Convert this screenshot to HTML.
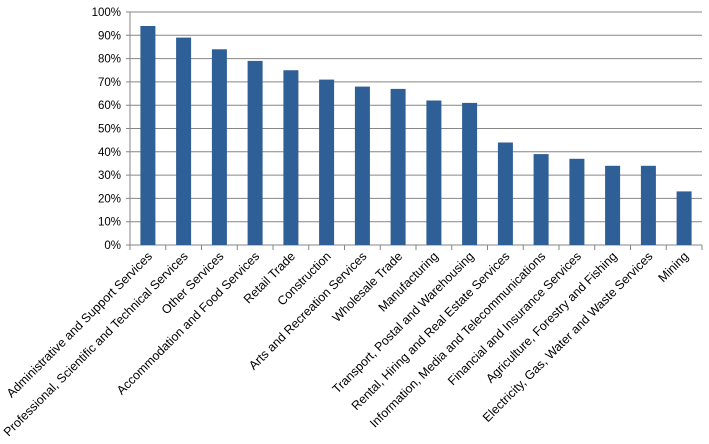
<!DOCTYPE html><html><head><style>body{margin:0;background:#fff}</style></head><body>
<svg width="709" height="439" xmlns="http://www.w3.org/2000/svg" font-family="Liberation Sans, sans-serif" font-size="11.5" fill="#000">
<g stroke="#868686" stroke-width="1">
<line x1="126" x2="702" y1="245" y2="245"/>
<line x1="126" x2="702" y1="221.7" y2="221.7"/>
<line x1="126" x2="702" y1="198.4" y2="198.4"/>
<line x1="126" x2="702" y1="175.1" y2="175.1"/>
<line x1="126" x2="702" y1="151.8" y2="151.8"/>
<line x1="126" x2="702" y1="128.5" y2="128.5"/>
<line x1="126" x2="702" y1="105.2" y2="105.2"/>
<line x1="126" x2="702" y1="81.9" y2="81.9"/>
<line x1="126" x2="702" y1="58.6" y2="58.6"/>
<line x1="126" x2="702" y1="35.3" y2="35.3"/>
<line x1="126" x2="702" y1="12" y2="12"/>
<line x1="130" x2="130" y1="12" y2="250"/>
<line x1="165.75" x2="165.75" y1="245" y2="250"/>
<line x1="201.5" x2="201.5" y1="245" y2="250"/>
<line x1="237.25" x2="237.25" y1="245" y2="250"/>
<line x1="273" x2="273" y1="245" y2="250"/>
<line x1="308.75" x2="308.75" y1="245" y2="250"/>
<line x1="344.5" x2="344.5" y1="245" y2="250"/>
<line x1="380.25" x2="380.25" y1="245" y2="250"/>
<line x1="416" x2="416" y1="245" y2="250"/>
<line x1="451.75" x2="451.75" y1="245" y2="250"/>
<line x1="487.5" x2="487.5" y1="245" y2="250"/>
<line x1="523.25" x2="523.25" y1="245" y2="250"/>
<line x1="559" x2="559" y1="245" y2="250"/>
<line x1="594.75" x2="594.75" y1="245" y2="250"/>
<line x1="630.5" x2="630.5" y1="245" y2="250"/>
<line x1="666.25" x2="666.25" y1="245" y2="250"/>
<line x1="702" x2="702" y1="245" y2="250"/>
</g>
<g text-anchor="end">
<text x="121" y="249">0%</text>
<text x="121" y="225.7">10%</text>
<text x="121" y="202.4">20%</text>
<text x="121" y="179.1">30%</text>
<text x="121" y="155.8">40%</text>
<text x="121" y="132.5">50%</text>
<text x="121" y="109.2">60%</text>
<text x="121" y="85.9">70%</text>
<text x="121" y="62.6">80%</text>
<text x="121" y="39.3">90%</text>
<text x="121" y="16">100%</text>
</g>
<g fill="#2f5f97">
<rect x="140.4" y="26" width="15" height="219"/>
<rect x="176.1" y="37.6" width="15" height="207.4"/>
<rect x="211.9" y="49.3" width="15" height="195.7"/>
<rect x="247.6" y="60.9" width="15" height="184.1"/>
<rect x="283.4" y="70.25" width="15" height="174.75"/>
<rect x="319.1" y="79.6" width="15" height="165.4"/>
<rect x="354.9" y="86.6" width="15" height="158.4"/>
<rect x="390.6" y="88.9" width="15" height="156.1"/>
<rect x="426.4" y="100.5" width="15" height="144.5"/>
<rect x="462.1" y="102.9" width="15" height="142.1"/>
<rect x="497.9" y="142.5" width="15" height="102.5"/>
<rect x="533.6" y="154.1" width="15" height="90.9"/>
<rect x="569.4" y="158.8" width="15" height="86.2"/>
<rect x="605.1" y="165.8" width="15" height="79.2"/>
<rect x="640.9" y="165.8" width="15" height="79.2"/>
<rect x="676.6" y="191.4" width="15" height="53.6"/>
</g>
<g text-anchor="end" font-size="12.4">
<text transform="translate(152.9,257) rotate(-45)">Administrative and Support Services</text>
<text transform="translate(188.6,257) rotate(-45)">Professional, Scientific and Technical Services</text>
<text transform="translate(224.4,257) rotate(-45)">Other Services</text>
<text transform="translate(260.1,257) rotate(-45)">Accommodation and Food Services</text>
<text transform="translate(295.9,257) rotate(-45)">Retail Trade</text>
<text transform="translate(331.6,257) rotate(-45)">Construction</text>
<text transform="translate(367.4,257) rotate(-45)">Arts and Recreation Services</text>
<text transform="translate(403.1,257) rotate(-45)">Wholesale Trade</text>
<text transform="translate(438.9,257) rotate(-45)">Manufacturing</text>
<text transform="translate(474.6,257) rotate(-45)">Transport, Postal and Warehousing</text>
<text transform="translate(510.4,257) rotate(-45)">Rental, Hiring and Real Estate Services</text>
<text transform="translate(546.1,257) rotate(-45)">Information, Media and Telecommunications</text>
<text transform="translate(581.9,257) rotate(-45)">Financial and Insurance Services</text>
<text transform="translate(617.6,257) rotate(-45)">Agriculture, Forestry and Fishing</text>
<text transform="translate(653.4,257) rotate(-45)">Electricity, Gas, Water and Waste Services</text>
<text transform="translate(689.1,257) rotate(-45)">Mining</text>
</g>
</svg></body></html>
